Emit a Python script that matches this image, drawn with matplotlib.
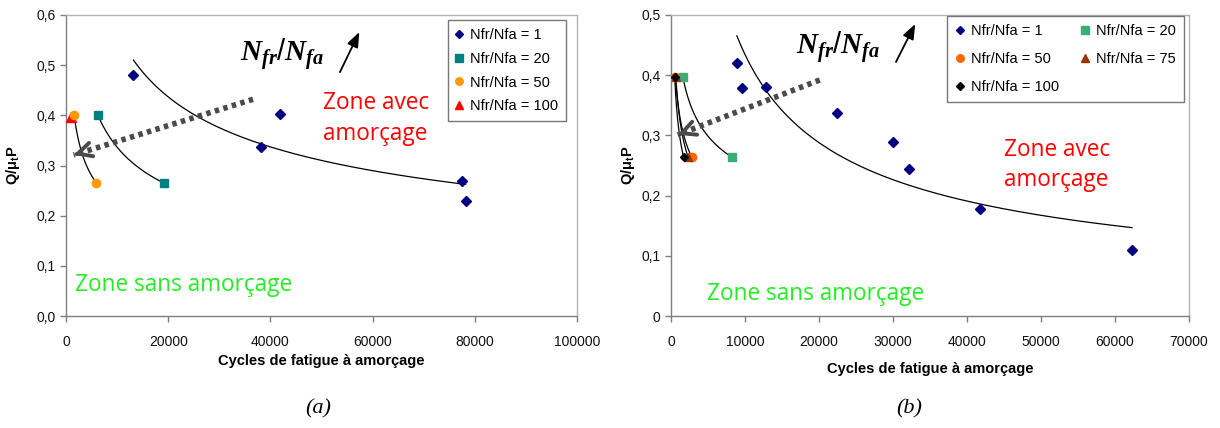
import numpy as np
import matplotlib
matplotlib.use("Agg")
import matplotlib.pyplot as plt
from matplotlib.ticker import FuncFormatter, MultipleLocator

plt.rcParams['font.family'] = ['Liberation Sans', 'DejaVu Sans']
plt.rcParams['mathtext.fontset'] = 'custom'
plt.rcParams['mathtext.rm'] = 'Liberation Sans'
plt.rcParams['mathtext.bf'] = 'Liberation Sans:bold'
plt.rcParams['mathtext.it'] = 'Liberation Serif:italic:bold'

# ---------------- data: panel (a) ----------------
a_n1_x = [13200, 41800, 38200, 77500, 78200]
a_n1_y = [0.480, 0.402, 0.337, 0.269, 0.229]
a_n20_x = [6250, 19150]
a_n20_y = [0.400, 0.265]
a_n50_x = [1600, 5950]
a_n50_y = [0.400, 0.265]
a_n100_x = [1000]
a_n100_y = [0.397]

# ---------------- data: panel (b) ----------------
b_n1_x = [8900, 9600, 12900, 22400, 30000, 32100, 41700, 62300]
b_n1_y = [0.421, 0.378, 0.381, 0.338, 0.289, 0.244, 0.178, 0.109]
b_n20_x = [1600, 8200]
b_n20_y = [0.397, 0.264]
b_n50_x = [600, 2800]
b_n50_y = [0.397, 0.264]
b_n75_x = [650, 2300]
b_n75_y = [0.397, 0.264]
b_n100_x = [500, 1700]
b_n100_y = [0.397, 0.264]

# annotation anchors (data units)
a_dot_arrow = [(36600, 0.432), (1500, 0.321)]
b_dot_arrow = [(20100, 0.392), (900, 0.301)]
a_small_arrow = [(53600, 0.486), (57400, 0.566)]
b_small_arrow = [(30400, 0.422), (33000, 0.485)]

fig = plt.figure(figsize=(12.2, 4.28), dpi=100)
axA = fig.add_axes([66/1220, 112/428, 511/1220, 301/428])
axB = fig.add_axes([671/1220, 112/428, 518/1220, 301/428])


def power_curve(ax, xs, ys):
    b, a = np.polyfit(np.log(xs), np.log(ys), 1)
    xx = np.linspace(min(xs), max(xs), 200)
    ax.plot(xx, np.exp(a) * xx ** b, color='black', lw=0.9, zorder=2)


def style_axes(ax):
    for s in ['left', 'bottom']:
        ax.spines[s].set_color('#7f7f7f')
        ax.spines[s].set_linewidth(1.0)
    for s in ['top', 'right']:
        ax.spines[s].set_color('#b4b4b4')
        ax.spines[s].set_linewidth(1.0)
    ax.tick_params(direction='out', length=4, width=1, color='#7f7f7f',
                   labelsize=10, labelcolor='#111111')
    ax.tick_params(axis='x', pad=10)
    ax.xaxis.set_major_formatter(FuncFormatter(lambda v, p: f'{int(round(v))}'))


def dotted_arrow(ax, pts):
    (x0, y0), (x1, y1) = pts
    ax.plot([x0, x1], [y0, y1], color='#4a4a4a', lw=4, linestyle=(0, (0.8, 0.8)),
            solid_capstyle='butt', dash_capstyle='butt', zorder=3)
    xm = x1 + (x0 - x1) * 0.02
    ym = y1 + (y0 - y1) * 0.02
    ax.annotate('', xy=(x1, y1), xytext=(xm, ym),
                arrowprops=dict(arrowstyle='->,head_length=1.0,head_width=0.5',
                                color='#4a4a4a', lw=2.8, shrinkA=0, shrinkB=0), zorder=3)


def small_arrow(ax, pts):
    ax.annotate('', xy=pts[1], xytext=pts[0],
                arrowprops=dict(arrowstyle='-|>,head_length=0.9,head_width=0.35',
                                color='black', lw=1.3, shrinkA=0, shrinkB=0))


ZF = 16.3

# ---------------- panel (a) ----------------
ax = axA
power_curve(ax, a_n1_x, a_n1_y)
power_curve(ax, a_n20_x, a_n20_y)
power_curve(ax, a_n50_x, a_n50_y)
h1, = ax.plot(a_n1_x, a_n1_y, 'D', color='#000080', ms=5, ls='none', zorder=4, label='Nfr/Nfa = 1')
h2, = ax.plot(a_n20_x, a_n20_y, 's', color='#008080', ms=6, ls='none', zorder=4, label='Nfr/Nfa = 20')
h4, = ax.plot(a_n100_x, a_n100_y, '^', color='#ff0000', ms=7, ls='none', zorder=4, label='Nfr/Nfa = 100')
h3, = ax.plot(a_n50_x, a_n50_y, 'o', color='#ff9900', ms=6, ls='none', zorder=5, label='Nfr/Nfa = 50')
ax.set_xlim(0, 100000)
ax.set_ylim(0, 0.6)
ax.xaxis.set_major_locator(MultipleLocator(20000))
ax.yaxis.set_major_locator(MultipleLocator(0.1))
style_axes(ax)
ax.yaxis.set_major_formatter(FuncFormatter(lambda v, p: f'{v:.1f}'.replace('.', ',')))
ax.set_xlabel('Cycles de fatigue à amorçage', fontsize=10.5, fontweight='bold', labelpad=3)
ax.set_ylabel('Q/μ$_\\mathbf{t}$P', fontsize=10.5, fontweight='bold', labelpad=10)
leg = ax.legend(handles=[h1, h2, h3, h4], loc='upper right', bbox_to_anchor=(0.978, 0.982),
                borderaxespad=0, fontsize=10.5, frameon=True, fancybox=False,
                handlelength=0.6, handletextpad=0.45, labelspacing=0.68,
                borderpad=0.5, markerscale=0.9)
leg.get_frame().set_edgecolor('#555555')
leg.get_frame().set_linewidth(1.0)
dotted_arrow(ax, a_dot_arrow)
small_arrow(ax, a_small_arrow)
ax.text(42300, 0.520, '$N_{fr}/N_{fa}$', fontsize=21, ha='center', va='center')
ax.text(50300, 0.425, 'Zone avec', color='#ff0000', fontsize=ZF, family='Open Sans', va='center')
ax.text(50300, 0.362, 'amorçage', color='#ff0000', fontsize=ZF, family='Open Sans', va='center')
ax.text(1700, 0.062, 'Zone sans amorçage', color='#22ee22', fontsize=ZF, family='Open Sans', va='center')

# ---------------- panel (b) ----------------
ax = axB
power_curve(ax, b_n1_x, b_n1_y)
power_curve(ax, b_n20_x, b_n20_y)
power_curve(ax, b_n50_x, b_n50_y)
power_curve(ax, b_n75_x, b_n75_y)
power_curve(ax, b_n100_x, b_n100_y)
g1, = ax.plot(b_n1_x, b_n1_y, 'D', color='#000080', ms=5, ls='none', zorder=4, label='Nfr/Nfa = 1')
g2, = ax.plot(b_n20_x, b_n20_y, 's', color='#3cae74', ms=6, ls='none', zorder=4, label='Nfr/Nfa = 20')
g3, = ax.plot(b_n50_x, b_n50_y, 'o', color='#ff6600', ms=6, ls='none', zorder=4, label='Nfr/Nfa = 50')
g4, = ax.plot(b_n75_x, b_n75_y, '^', color='#993300', ms=6, ls='none', zorder=4, label='Nfr/Nfa = 75')
g5, = ax.plot(b_n100_x, b_n100_y, 'D', color='#000000', ms=4, ls='none', zorder=5, label='Nfr/Nfa = 100')
ax.set_xlim(0, 70000)
ax.set_ylim(0, 0.5)
ax.xaxis.set_major_locator(MultipleLocator(10000))
ax.yaxis.set_major_locator(MultipleLocator(0.1))
style_axes(ax)
ax.yaxis.set_major_formatter(FuncFormatter(
    lambda v, p: '0' if abs(v) < 1e-9 else f'{v:.1f}'.replace('.', ',')))
ax.set_xlabel('Cycles de fatigue à amorçage', fontsize=10.5, fontweight='bold', labelpad=9)
ax.set_ylabel('Q/μ$_\\mathbf{t}$P', fontsize=10.5, fontweight='bold', labelpad=3)
leg = ax.legend(handles=[g1, g3, g5, g2, g4], loc='upper right', bbox_to_anchor=(0.990, 0.997),
                borderaxespad=0, fontsize=10.5, ncol=2, frameon=True, fancybox=False,
                handlelength=0.6, handletextpad=0.45, labelspacing=0.95,
                columnspacing=1.5, borderpad=0.55, markerscale=0.9)
leg.get_frame().set_edgecolor('#555555')
leg.get_frame().set_linewidth(1.0)
dotted_arrow(ax, b_dot_arrow)
small_arrow(ax, b_small_arrow)
ax.text(22600, 0.445, '$N_{fr}/N_{fa}$', fontsize=21, ha='center', va='center')
ax.text(45000, 0.276, 'Zone avec', color='#ff0000', fontsize=ZF, family='Open Sans', va='center')
ax.text(45000, 0.226, 'amorçage', color='#ff0000', fontsize=ZF, family='Open Sans', va='center')
ax.text(4800, 0.036, 'Zone sans amorçage', color='#22ee22', fontsize=ZF, family='Open Sans', va='center')

# captions
fig.text(318/1220, 1 - 409/428, '(a)', fontsize=16, family='Liberation Serif', style='italic',
         ha='center', va='center')
fig.text(909/1220, 1 - 409/428, '(b)', fontsize=16, family='Liberation Serif', style='italic',
         ha='center', va='center')

fig.savefig('out.png', dpi=100, facecolor='white')
